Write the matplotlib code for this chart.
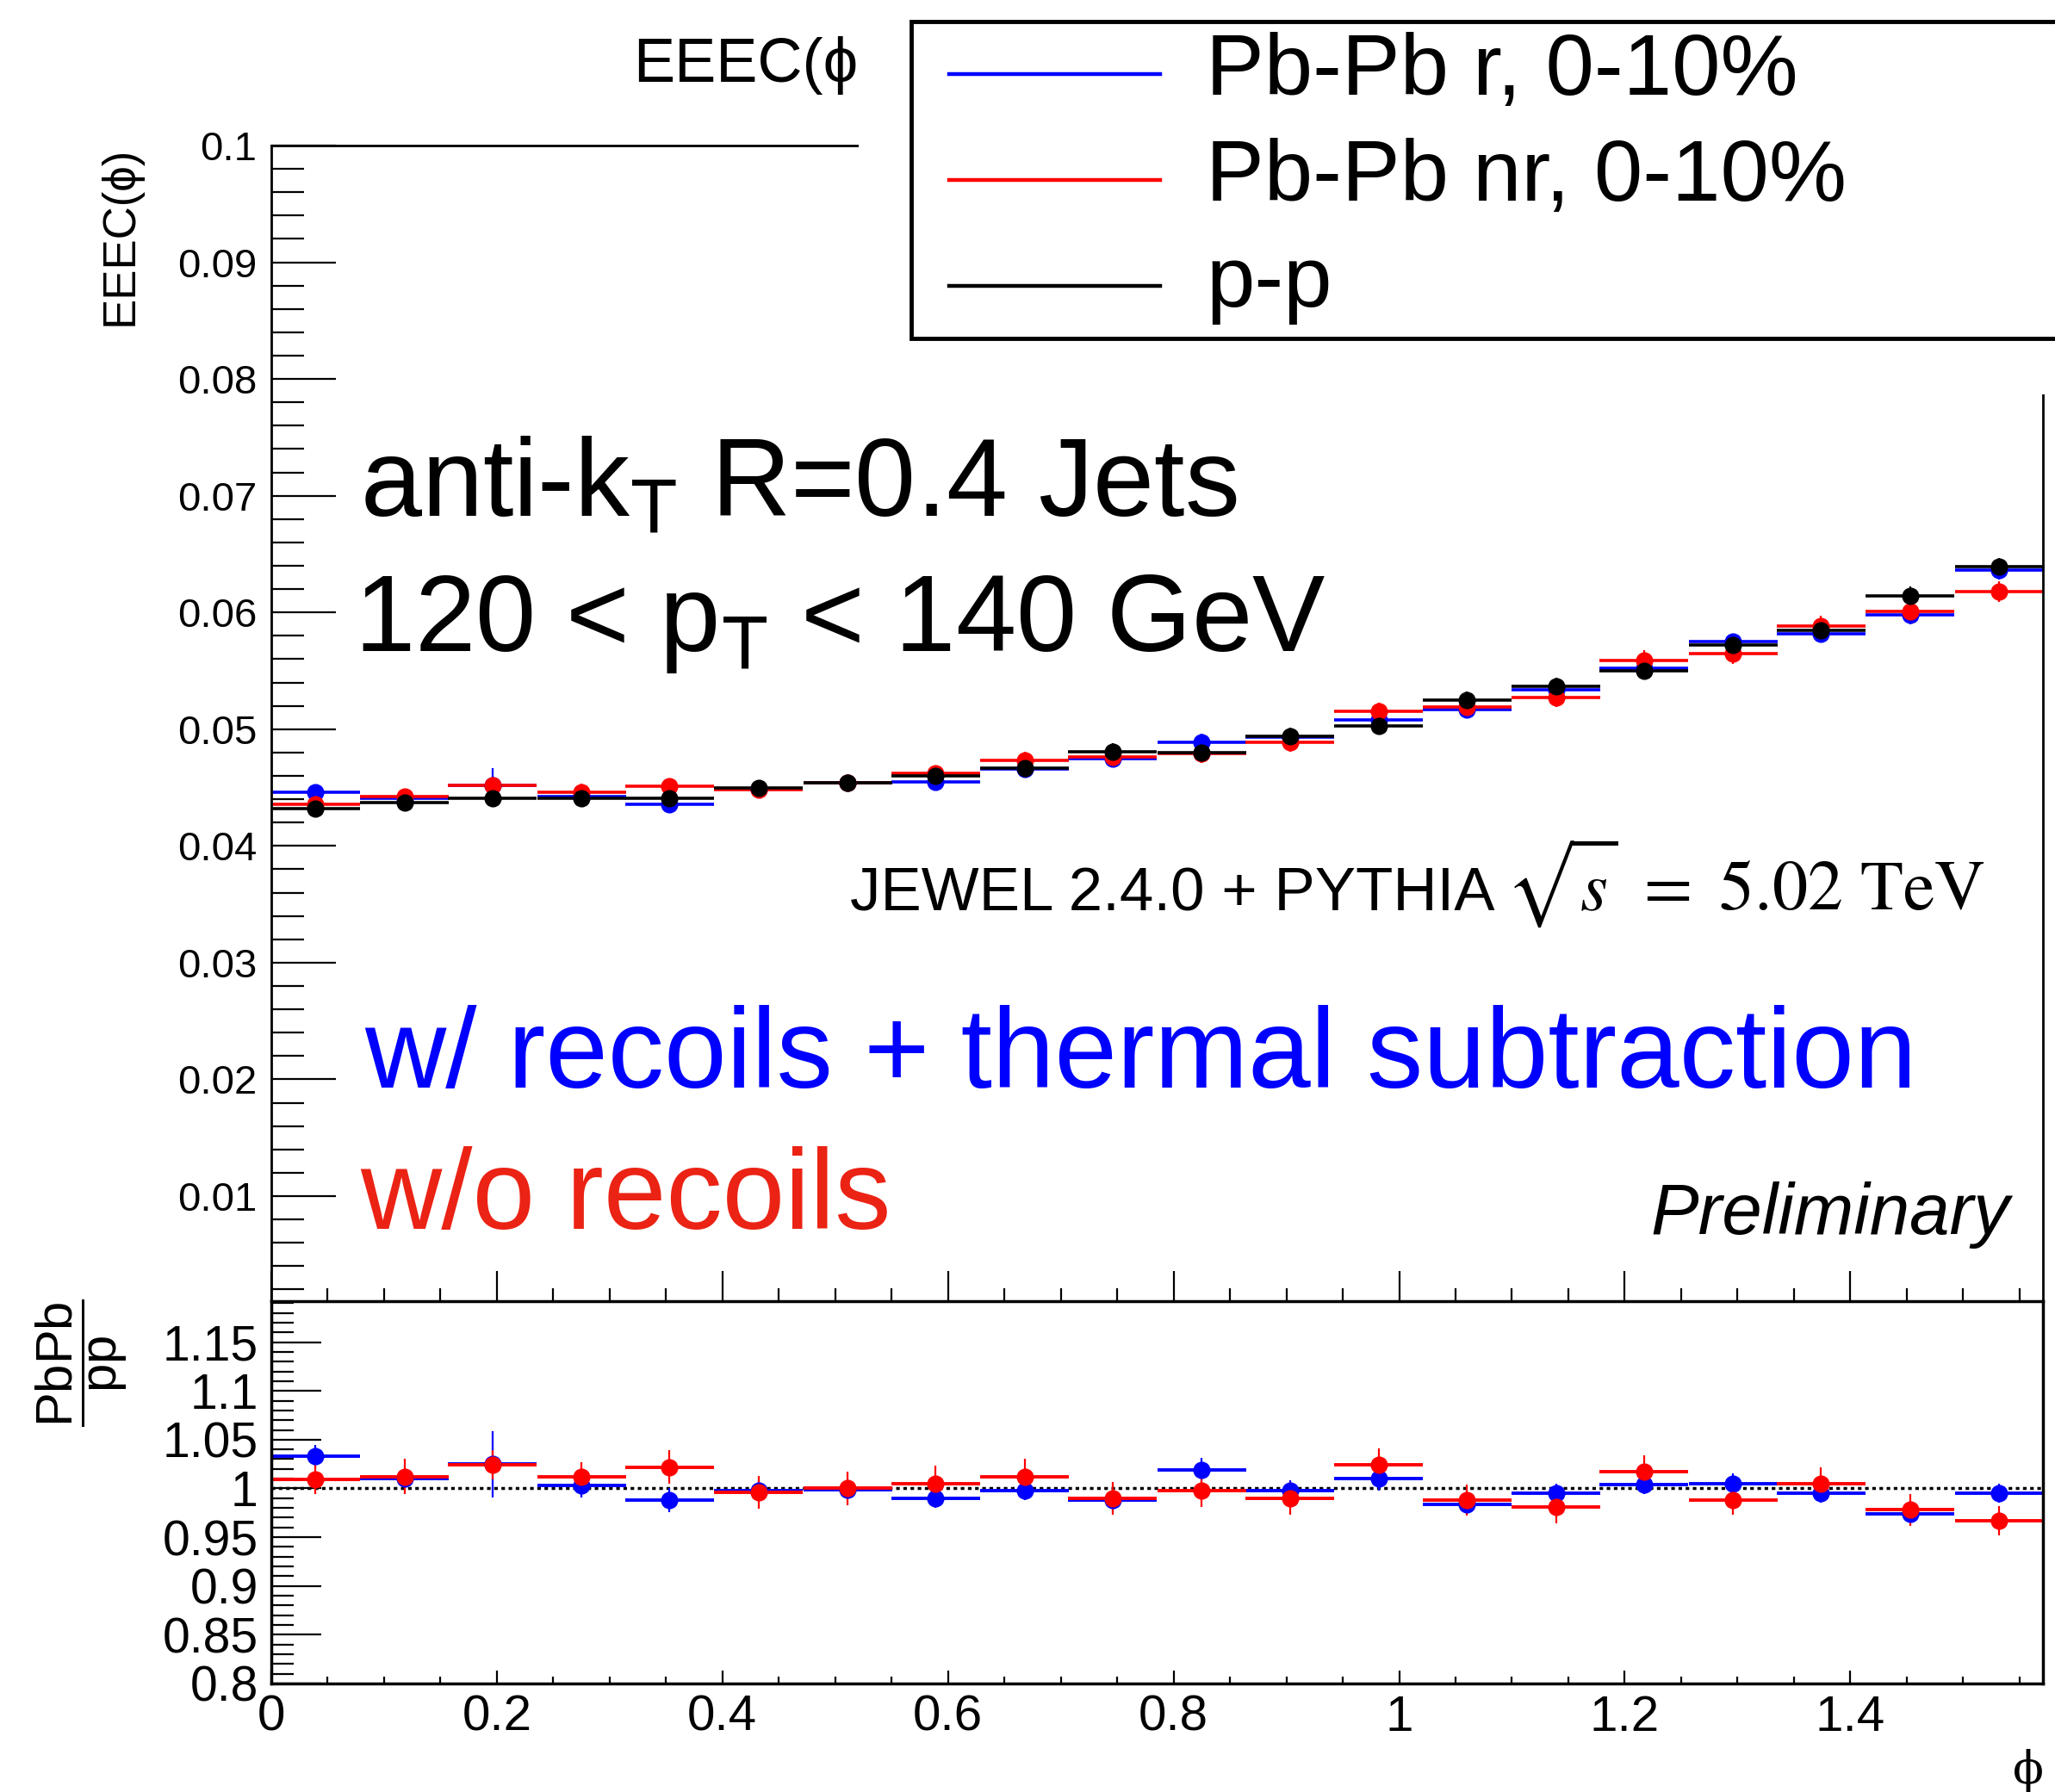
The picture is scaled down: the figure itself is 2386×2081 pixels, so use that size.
import numpy as np
import matplotlib
matplotlib.use("Agg")
import matplotlib.pyplot as plt
from matplotlib.patches import Rectangle
from matplotlib.lines import Line2D
from matplotlib.ticker import MultipleLocator, FormatStrFormatter

plt.rcParams['font.family'] = ['Liberation Sans', 'DejaVu Sans']
plt.rcParams['mathtext.fontset'] = 'custom'
plt.rcParams['mathtext.rm'] = 'Liberation Sans'
plt.rcParams['mathtext.it'] = 'Liberation Sans:italic'
plt.rcParams['mathtext.bf'] = 'Liberation Sans:bold'

# bin centres in phi (20 bins from 0 to pi/2)
phi = np.array([0.039, 0.118, 0.196, 0.275, 0.353, 0.432, 0.511, 0.589, 0.668, 0.746,
                0.825, 0.903, 0.982, 1.060, 1.139, 1.217, 1.296, 1.374, 1.453, 1.532])
half_bin = 0.0393

# EEEC(phi), upper panel
eeec_pp = [0.0432, 0.0437, 0.0441, 0.0441, 0.0441, 0.0450, 0.0454, 0.0460, 0.0467, 0.0481,
           0.0480, 0.0494, 0.0503, 0.0525, 0.0537, 0.0550, 0.0572, 0.0585, 0.0614, 0.0639]
eeec_r = [0.0446, 0.0441, 0.0452, 0.0442, 0.0436, 0.0449, 0.0454, 0.0455, 0.0466, 0.0475,
          0.0489, 0.0493, 0.0508, 0.0517, 0.0534, 0.0552, 0.0575, 0.0582, 0.0598, 0.0636]
eeec_nr = [0.0436, 0.0442, 0.0452, 0.0446, 0.0451, 0.0448, 0.0454, 0.0462, 0.0473, 0.0476,
           0.0479, 0.0489, 0.0515, 0.0519, 0.0527, 0.0559, 0.0565, 0.0588, 0.0601, 0.0618]
err_pp = [0.0006, 0.0006, 0.0006, 0.0006, 0.0006, 0.0006, 0.0006, 0.0006, 0.0006, 0.0007,
          0.0007, 0.0007, 0.0007, 0.0007, 0.0007, 0.0007, 0.0008, 0.0008, 0.0008, 0.0008]
err_r = [0.0006, 0.0006, 0.0015, 0.0006, 0.0006, 0.0006, 0.0006, 0.0006, 0.0006, 0.0007,
         0.0007, 0.0007, 0.0007, 0.0007, 0.0007, 0.0007, 0.0007, 0.0008, 0.0008, 0.0008]
err_nr = [0.0007, 0.0007, 0.0007, 0.0007, 0.0007, 0.0007, 0.0007, 0.0007, 0.0008, 0.0008,
          0.0008, 0.0008, 0.0008, 0.0008, 0.0008, 0.0009, 0.0009, 0.0009, 0.0009, 0.0009]

# PbPb / pp ratio, lower panel
ratio_r = [1.033, 1.010, 1.025, 1.003, 0.988, 0.998, 0.999, 0.990, 0.998, 0.988,
           1.019, 0.998, 1.010, 0.984, 0.995, 1.004, 1.005, 0.995, 0.974, 0.995]
ratio_nr = [1.009, 1.012, 1.024, 1.012, 1.022, 0.996, 1.000, 1.005, 1.012, 0.990,
            0.998, 0.990, 1.024, 0.988, 0.981, 1.017, 0.988, 1.005, 0.978, 0.967]
rerr_r = [0.012, 0.010, 0.034, 0.012, 0.012, 0.010, 0.010, 0.010, 0.010, 0.010,
          0.012, 0.010, 0.012, 0.010, 0.010, 0.010, 0.010, 0.010, 0.010, 0.010]
rerr_nr = [0.015, 0.018, 0.015, 0.015, 0.017, 0.017, 0.017, 0.018, 0.018, 0.017,
           0.017, 0.017, 0.017, 0.016, 0.017, 0.017, 0.015, 0.017, 0.016, 0.015]

W, H = 2386, 2081
fig = plt.figure(figsize=(W / 100, H / 100), dpi=100)


def fx(px):
    return px / W


def fy(py):
    return 1 - py / H


ax = fig.add_axes([fx(315), fy(1511), fx(2372) - fx(315), fy(169) - fy(1511)])
axr = fig.add_axes([fx(315), fy(1955), fx(2372) - fx(315), fy(1511) - fy(1955)])

# upper panel
for y, e, c in [(eeec_r, err_r, 'blue'), (eeec_nr, err_nr, 'red'), (eeec_pp, err_pp, 'black')]:
    ax.hlines(y, phi - half_bin, phi + half_bin, color=c, lw=2.6)
    ax.errorbar(phi, y, yerr=e, fmt='o', color=c, ms=13.5, elinewidth=1.6, capsize=0)

ax.set_xlim(0, np.pi / 2)
ax.set_ylim(0.001, 0.1)
ax.yaxis.set_major_locator(MultipleLocator(0.01))
ax.yaxis.set_minor_locator(MultipleLocator(0.002))
ax.yaxis.set_major_formatter(FormatStrFormatter('%g'))
ax.xaxis.set_major_locator(MultipleLocator(0.2))
ax.xaxis.set_minor_locator(MultipleLocator(0.05))
ax.tick_params(axis='y', which='major', direction='in', length=54, width=1.6, labelsize=34, pad=12)
ax.tick_params(axis='y', which='minor', direction='in', length=27, width=1.6)
ax.tick_params(axis='x', which='major', direction='in', length=25, width=1.6, labelbottom=False)
ax.tick_params(axis='x', which='minor', direction='in', length=11, width=1.6)
for s in ax.spines.values():
    s.set_linewidth(2)

# lower panel
for y, e, c in [(ratio_r, rerr_r, 'blue'), (ratio_nr, rerr_nr, 'red')]:
    axr.hlines(y, phi - half_bin, phi + half_bin, color=c, lw=2.8)
    axr.errorbar(phi, y, yerr=e, fmt='o', color=c, ms=13.5, elinewidth=1.6, capsize=0)
axr.axhline(1, color='black', lw=2.5, ls=(0, (1.2, 1.2)), zorder=0.5)

axr.set_xlim(0, np.pi / 2)
axr.set_ylim(0.8, 1.192)
axr.yaxis.set_major_locator(MultipleLocator(0.05))
axr.yaxis.set_minor_locator(MultipleLocator(0.01))
axr.yaxis.set_major_formatter(FormatStrFormatter('%g'))
axr.xaxis.set_major_locator(MultipleLocator(0.2))
axr.xaxis.set_minor_locator(MultipleLocator(0.05))
axr.xaxis.set_major_formatter(FormatStrFormatter('%g'))
axr.tick_params(axis='y', which='major', direction='in', length=42, width=1.6, labelsize=41, pad=11)
axr.tick_params(axis='y', which='minor', direction='in', length=19, width=1.6)
axr.tick_params(axis='x', which='major', direction='in', length=11, width=1.6, labelsize=42, pad=9)
axr.tick_params(axis='x', which='minor', direction='in', length=6, width=1.6)
for s in axr.spines.values():
    s.set_linewidth(2.5)

# axis titles
fig.text(fx(140), fy(170), 'EEEC(\u03d5)', rotation=90, ha='center', va='top', fontsize=38)
fig.text(fx(95), fy(1583), r'$\dfrac{\mathrm{PbPb}}{\mathrm{pp}}$', rotation=90,
         ha='center', va='center', fontsize=43)
fig.text(fx(2355), fy(2057), '\u03d5', family=['DejaVu Serif', 'Liberation Serif'],
         ha='center', va='center', fontsize=38)

# cut-off title hidden behind the legend
fig.text(fx(735), fy(95), 'EEEC(\u03d5)', fontsize=52, va='baseline', zorder=1)
fig.add_artist(Rectangle((fx(997), fy(458)), 1, 1, transform=fig.transFigure,
                         facecolor='white', edgecolor='none', zorder=2))

# legend box
fig.add_artist(Rectangle((fx(1058), fy(393)), 0.7, fy(25) - fy(393), transform=fig.transFigure,
                         facecolor='white', edgecolor='black', lw=3.5, zorder=4))
legend_labels = ['Pb-Pb r, 0-10%', 'Pb-Pb nr, 0-10%', 'p-p']
legend_colors = ['blue', 'red', 'black']
for i, (lab, c) in enumerate(zip(legend_labels, legend_colors)):
    yl = 86 + 123 * i
    fig.add_artist(Line2D([fx(1102), fx(1347)], [fy(yl), fy(yl)], transform=fig.transFigure,
                          color=c, lw=3.2, zorder=5))
    fig.text(fx(1400), fy(yl + 24), lab, fontsize=73, va='baseline', zorder=5)

# annotations
fig.text(fx(418), fy(598), r'anti-k$_{\mathrm{T}}$ R=0.4 Jets', fontsize=92, va='baseline')
fig.text(fx(411), fy(756), r'120 < p$_{\mathrm{T}}$ < 140 GeV', fontsize=91, va='baseline')
fig.text(fx(987), fy(1057), 'JEWEL 2.4.0 + PYTHIA', fontsize=51, va='baseline')
fig.text(fx(1748), fy(1057), r'$\sqrt{s}\ =\ 5.02\ \mathrm{TeV}$', math_fontfamily='stix',
         fontsize=59, va='baseline')
fig.text(fx(423), fy(1263), 'w/ recoils + thermal subtraction', fontsize=94, color='#0000ff',
         va='baseline')
fig.text(fx(418), fy(1427), 'w/o recoils', fontsize=94, color='#eb2314', va='baseline')
fig.text(fx(2333), fy(1433), 'Preliminary', fontsize=60, style='italic', ha='right',
         va='baseline')

fig.savefig('out.png', dpi=100)
